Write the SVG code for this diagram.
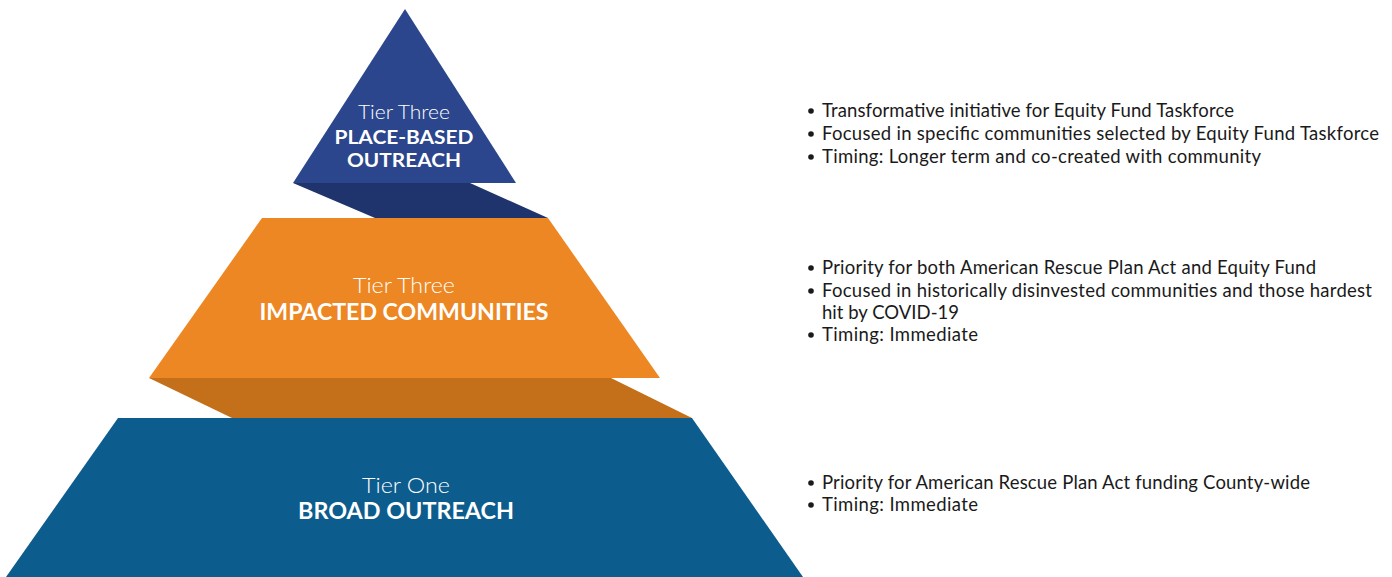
<svg xmlns="http://www.w3.org/2000/svg" width="1392" height="577" viewBox="0 0 1392 577">
<style>
.lt{font-family:Lato,"Noto Sans",sans-serif;font-weight:300;fill:#fff;text-anchor:middle;font-size:22px}
.bd{font-family:Lato,"Noto Sans",sans-serif;font-weight:700;fill:#fff;text-anchor:middle;font-size:22px}
.sm{font-size:19px}
.bt{font-family:Lato,"Noto Sans",sans-serif;font-size:18.5px;fill:#1a1a1a}
.dot{fill:#1a1a1a}
</style>
<rect width="1392" height="577" fill="#fff"/>
<g id="tier1">
<polygon points="118,418 692,418 803,577 6,577" fill="#0D5C8E"/>
<text class="lt" x="406" y="493" textLength="88" lengthAdjust="spacingAndGlyphs">Tier One</text>
<text class="bd" x="406" y="519" textLength="216" lengthAdjust="spacingAndGlyphs">BROAD OUTREACH</text>
</g>
<g id="tier2">
<polygon points="149,378 611,378 692,418 232,418" fill="#C4701A"/>
<polygon points="262,218 548,218 660,378 149,378" fill="#EC8723"/>
<text class="lt" x="404" y="293" textLength="102" lengthAdjust="spacingAndGlyphs">Tier Three</text>
<text class="bd" x="404" y="320" textLength="289" lengthAdjust="spacingAndGlyphs">IMPACTED COMMUNITIES</text>
</g>
<g id="tier3">
<polygon points="293,183 470,183 548,218 375,218" fill="#1F346C"/>
<polygon points="405,9 516,183 293,183" fill="#2B468C"/>
<text class="lt sm" x="404" y="119" textLength="92" lengthAdjust="spacingAndGlyphs">Tier Three</text>
<text class="bd sm" x="404" y="144" textLength="139" lengthAdjust="spacingAndGlyphs">PLACE-BASED</text>
<text class="bd sm" x="404" y="167" textLength="114" lengthAdjust="spacingAndGlyphs">OUTREACH</text>
</g>
<g id="notes3">
<circle class="dot" cx="811" cy="111" r="2.8"/>
<circle class="dot" cx="811" cy="134" r="2.8"/>
<circle class="dot" cx="811" cy="157" r="2.8"/>
<text class="bt" x="822" y="117" textLength="412">Transformative initiative for Equity Fund Taskforce</text>
<text class="bt" x="822" y="140" textLength="557">Focused in specific communities selected by Equity Fund Taskforce</text>
<text class="bt" x="822" y="163" textLength="439">Timing: Longer term and co-created with community</text>
</g>
<g id="notes2">
<circle class="dot" cx="811" cy="268" r="2.8"/>
<circle class="dot" cx="811" cy="291" r="2.8"/>
<circle class="dot" cx="811" cy="335" r="2.8"/>
<text class="bt" x="822" y="274" textLength="494">Priority for both American Rescue Plan Act and Equity Fund</text>
<text class="bt" x="822" y="297" textLength="550">Focused in historically disinvested communities and those hardest</text>
<text class="bt" x="822" y="319" textLength="137">hit by COVID-19</text>
<text class="bt" x="822" y="341" textLength="156">Timing: Immediate</text>
</g>
<g id="notes1">
<circle class="dot" cx="811" cy="483" r="2.8"/>
<circle class="dot" cx="811" cy="505" r="2.8"/>
<text class="bt" x="822" y="489" textLength="488">Priority for American Rescue Plan Act funding County-wide</text>
<text class="bt" x="822" y="511" textLength="156">Timing: Immediate</text>
</g>
<g id="connectors"/>
</svg>
